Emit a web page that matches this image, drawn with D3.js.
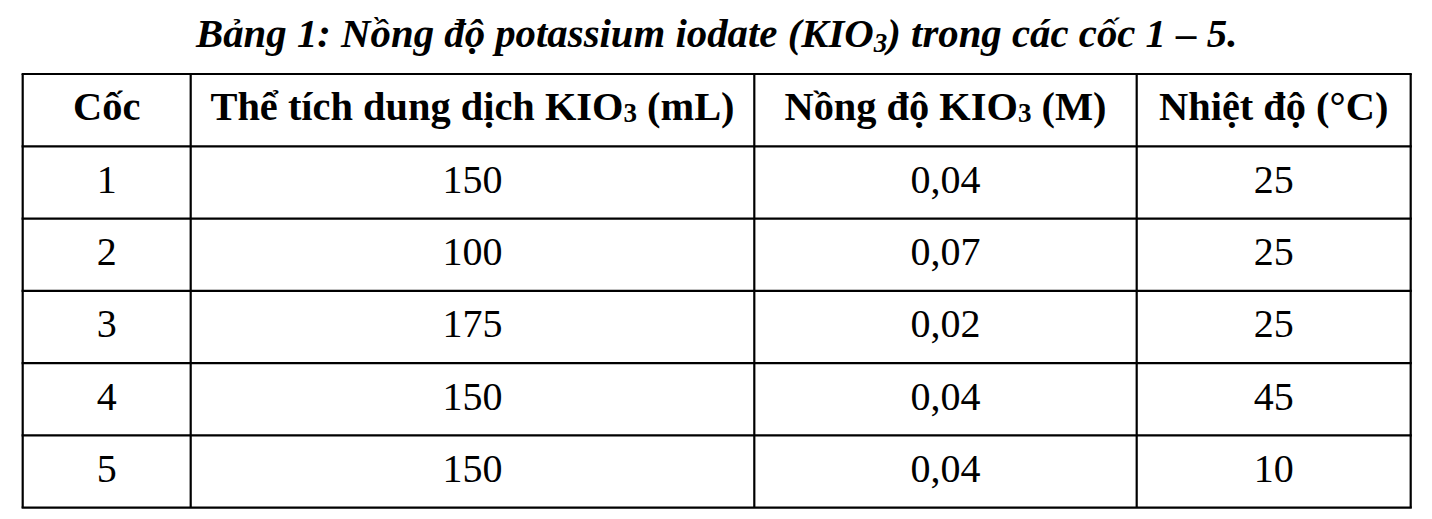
<!DOCTYPE html>
<html>
<head>
<meta charset="utf-8">
<script src="https://cdn.jsdelivr.net/npm/d3@7"></script>
<style>
  body { margin: 0; background: #fff; }
  svg { display: block; }
  text { font-family: "Liberation Serif", "Times New Roman", serif; fill: #000; }
</style>
</head>
<body>
<div id="chart"></div>
<script>
// table data
var titleParts = ["Bảng 1: Nồng độ potassium iodate (KIO", "3", ") trong các cốc 1 – 5."];
// odd entries are subscripts
var headers = [
    ["Cốc"],
    ["Thể tích dung dịch KIO", "3", " (mL)"],
    ["Nồng độ KIO", "3", " (M)"],
    ["Nhiệt độ (°C)"]
];
var cups = [1, 2, 3, 4, 5];
var volumes = [150, 100, 175, 150, 150];
var concentrations = [0.04, 0.07, 0.02, 0.04, 0.04];
var temperatures = [25, 25, 25, 45, 10];

var width = 1432, height = 519;
var colEdges = [22.7, 190.7, 754.3, 1136.7, 1410.7];

// vietnamese style decimal comma
var vn = d3.formatLocale({decimal: ",", thousands: ".", grouping: [3], currency: ["", " ₫"]});
var fmtConc = vn.format(".2f");

var svg = d3.select("#chart").append("svg")
    .attr("width", width)
    .attr("height", height);

var rowKeys = ["header"].concat(cups);
var y = d3.scaleBand().domain(rowKeys).range([74, 507.7]).padding(0);
var x = d3.scaleOrdinal().domain(d3.range(4)).range(d3.range(4).map(function (i) {
    return (colEdges[i] + colEdges[i + 1]) / 2;
}));

// title
var title = svg.append("text")
    .attr("x", (colEdges[0] + colEdges[4]) / 2)
    .attr("y", 47)
    .attr("text-anchor", "middle")
    .style("font-size", "40.8px")
    .style("font-weight", "bold")
    .style("font-style", "italic");
titleParts.forEach(function (p, i) {
    var t = title.append("tspan").text(p);
    if (i % 2 == 1) {
        t.style("font-size", "27px").attr("dy", 5);
    } else if (i > 0) {
        t.attr("dy", -5);
    }
});

// header row
headers.forEach(function (parts, c) {
    var t = svg.append("text")
        .attr("x", x(c))
        .attr("y", y("header") + 45.5)
        .attr("text-anchor", "middle")
        .style("font-size", "40.4px")
        .style("font-weight", "bold");
    parts.forEach(function (p, i) {
        var s = t.append("tspan").text(p);
        if (i % 2 == 1) {
            s.style("font-size", "27px").attr("dy", 2);
        } else if (i > 0) {
            s.attr("dy", -2);
        }
    });
});

// body rows
var rows = cups.map(function (c, i) {
    return [String(c), String(volumes[i]), fmtConc(concentrations[i]), String(temperatures[i])];
});

svg.selectAll("g.row")
    .data(rows)
    .enter().append("g")
    .attr("class", "row")
    .attr("transform", function (d, i) { return "translate(0," + y(cups[i]) + ")"; })
    .selectAll("text")
    .data(function (d) { return d; })
    .enter().append("text")
    .attr("x", function (d, i) { return x(i); })
    .attr("y", 46.5)
    .attr("text-anchor", "middle")
    .style("font-size", "40px")
    .text(function (d) { return d; });

// grid lines
var grid = svg.append("g")
    .attr("stroke", "#000")
    .attr("stroke-width", 2.2);

var hLines = rowKeys.map(function (k) { return y(k); }).concat([y.range()[1]]);
grid.selectAll("line.h")
    .data(hLines)
    .enter().append("line")
    .attr("class", "h")
    .attr("x1", colEdges[0] - 1.1)
    .attr("x2", colEdges[4] + 1.1)
    .attr("y1", function (d) { return d; })
    .attr("y2", function (d) { return d; });

grid.selectAll("line.v")
    .data(colEdges)
    .enter().append("line")
    .attr("class", "v")
    .attr("x1", function (d) { return d; })
    .attr("x2", function (d) { return d; })
    .attr("y1", y.range()[0])
    .attr("y2", y.range()[1]);
</script>
</body>
</html>
